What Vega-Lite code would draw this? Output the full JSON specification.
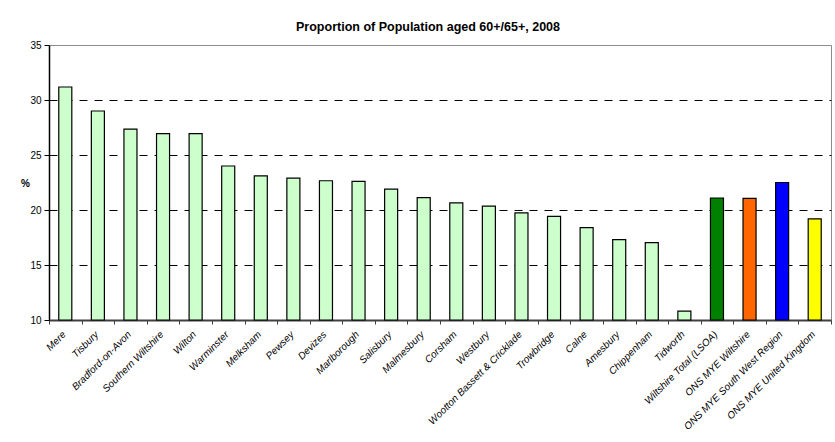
{
  "$schema": "https://vega.github.io/schema/vega-lite/v6.json",
  "width": 782,
  "height": 275,
  "autosize": "none",
  "padding": {"left": 49, "top": 45, "right": 4, "bottom": 122},
  "background": "white",
  "title": {
    "text": "Proportion of Population aged 60+/65+, 2008",
    "font": "Liberation Sans",
    "fontSize": 12.5,
    "fontWeight": "bold",
    "color": "black",
    "anchor": "middle",
    "frame": "group",
    "dx": -12,
    "offset": 7
  },
  "data": {
    "values": [
      {"area": "Mere", "pct": 31.18, "series": "Community Area"},
      {"area": "Tisbury", "pct": 29.0, "series": "Community Area"},
      {"area": "Bradford-on-Avon", "pct": 27.35, "series": "Community Area"},
      {"area": "Southern Wiltshire", "pct": 26.95, "series": "Community Area"},
      {"area": "Wilton", "pct": 26.95, "series": "Community Area"},
      {"area": "Warminster", "pct": 24.0, "series": "Community Area"},
      {"area": "Melksham", "pct": 23.1, "series": "Community Area"},
      {"area": "Pewsey", "pct": 22.9, "series": "Community Area"},
      {"area": "Devizes", "pct": 22.66, "series": "Community Area"},
      {"area": "Marlborough", "pct": 22.6, "series": "Community Area"},
      {"area": "Salisbury", "pct": 21.9, "series": "Community Area"},
      {"area": "Malmesbury", "pct": 21.12, "series": "Community Area"},
      {"area": "Corsham", "pct": 20.64, "series": "Community Area"},
      {"area": "Westbury", "pct": 20.36, "series": "Community Area"},
      {"area": "Wootton Bassett & Cricklade", "pct": 19.73, "series": "Community Area"},
      {"area": "Trowbridge", "pct": 19.42, "series": "Community Area"},
      {"area": "Calne", "pct": 18.4, "series": "Community Area"},
      {"area": "Amesbury", "pct": 17.3, "series": "Community Area"},
      {"area": "Chippenham", "pct": 17.03, "series": "Community Area"},
      {"area": "Tidworth", "pct": 10.8, "series": "Community Area"},
      {"area": "Wiltshire Total (LSOA)", "pct": 21.09, "series": "Wiltshire Total"},
      {"area": "ONS MYE Wiltshire", "pct": 21.06, "series": "ONS Wiltshire"},
      {"area": "ONS MYE South West Region", "pct": 22.5, "series": "ONS South West"},
      {"area": "ONS MYE United Kingdom", "pct": 19.2, "series": "ONS UK"}
    ]
  },
  "mark": {"type": "bar", "stroke": "black", "strokeWidth": 1.2, "width": {"band": 0.4}},
  "encoding": {
    "x": {
      "field": "area",
      "type": "nominal",
      "sort": null,
      "scale": {"paddingInner": 0, "paddingOuter": 0},
      "axis": {
        "title": null,
        "labelFont": "Liberation Sans",
        "labelFontStyle": "italic",
        "labelFontSize": 10,
        "labelColor": "black",
        "labelAngle": -45,
        "labelAlign": "right",
        "labelBaseline": "top",
        "labelPadding": 5,
        "labelOffset": -5,
        "tickBand": "extent",
        "tickColor": "#404040",
        "tickSize": 4,
        "tickWidth": 1,
        "domainColor": "#404040",
        "domainWidth": 2,
        "grid": false
      }
    },
    "y": {
      "field": "pct",
      "type": "quantitative",
      "scale": {"domain": [10, 35], "nice": false, "zero": false},
      "axis": {
        "values": [10, 15, 20, 25, 30, 35],
        "title": "%",
        "titleAngle": 0,
        "titleFont": "Liberation Sans",
        "titleFontSize": 10,
        "titleFontWeight": "bold",
        "titleColor": "black",
        "titleX": -24,
        "titleY": 143,
        "titleAlign": "center",
        "labelFont": "Liberation Sans",
        "labelFontSize": 10,
        "labelColor": "black",
        "labelPadding": 3,
        "tickColor": "black",
        "tickSize": 5,
        "domainColor": "black",
        "domainWidth": 1.5,
        "grid": true,
        "gridColor": "black",
        "gridDash": [8, 7],
        "gridWidth": 1,
        "gridOpacity": {"condition": {"test": "datum.value == 10 || datum.value == 35", "value": 0}, "value": 1}
      }
    },
    "y2": {"datum": 10},
    "color": {
      "field": "series",
      "type": "nominal",
      "legend": null,
      "scale": {
        "domain": ["Community Area", "Wiltshire Total", "ONS Wiltshire", "ONS South West", "ONS UK"],
        "range": ["#CCFFCC", "#008000", "#FF6600", "#0000FF", "#FFFF00"]
      }
    }
  },
  "config": {
    "view": {"stroke": "#8c8c8c", "strokeWidth": 1},
    "font": "Liberation Sans"
  }
}
